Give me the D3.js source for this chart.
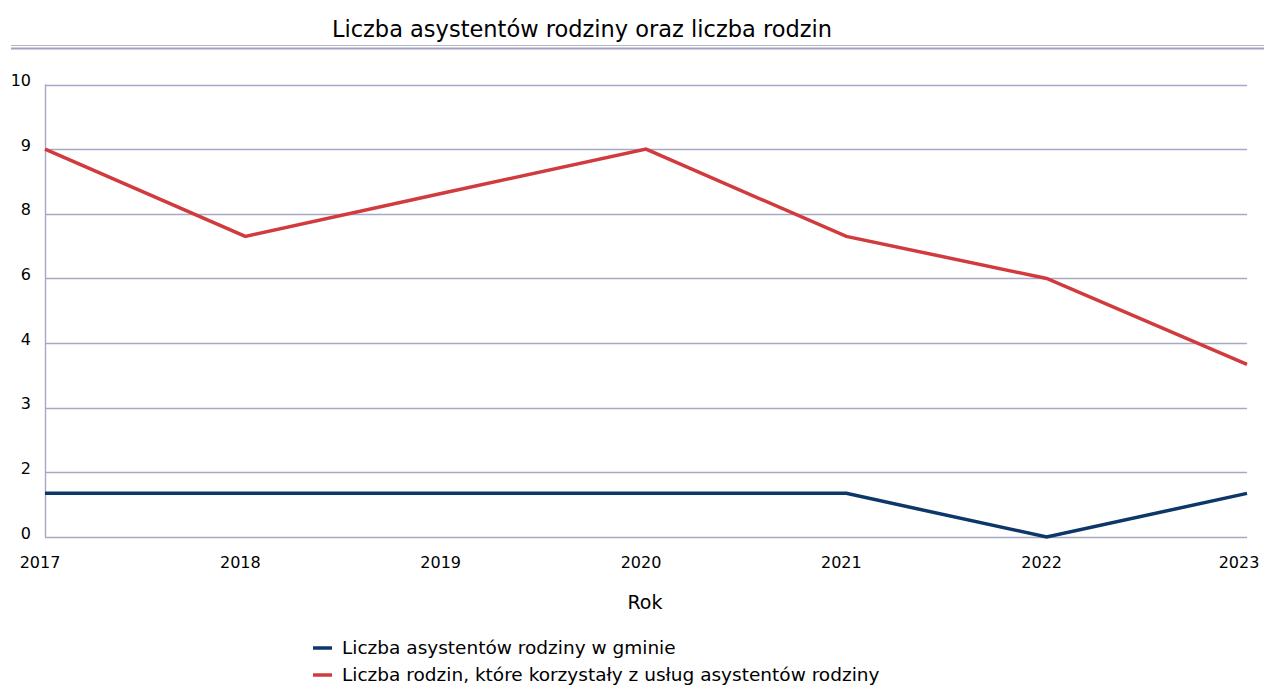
<!DOCTYPE html>
<html>
<head>
<meta charset="utf-8">
<script src="https://cdn.jsdelivr.net/npm/d3@7"></script>
<style>
  body { margin: 0; background: #fff; }
  text { font-family: "DejaVu Sans", Verdana, sans-serif; }
</style>
</head>
<body>
<svg id="chart" width="1264" height="686"></svg>
<script>
const years = [2017, 2018, 2019, 2020, 2021, 2022, 2023];
const assistants = [1.35, 1.35, 1.35, 1.35, 1.35, 0, 1.35];
const families = [9, 7.3, 8.33, 9, 7.3, 6, 3.67];
// the original axis spaces these labels evenly
const yTicks = [0, 2, 3, 4, 6, 8, 9, 10];

const series = [
  { name: 'Liczba asystentów rodziny w gminie', values: assistants, color: '#0d3768' },
  { name: 'Liczba rodzin, które korzystały z usług asystentów rodziny', values: families, color: '#d13b3e' },
];

const svg = d3.select('#chart');
const plotLeft = 45, plotRight = 1247, plotTop = 84.5, plotBottom = 537;

const x = d3.scalePoint().domain(years).range([plotLeft, plotRight]);
const y = d3.scaleLinear()
  .domain(yTicks)
  .range(yTicks.map((d, i) => plotBottom - i * (plotBottom - plotTop) / (yTicks.length - 1)));

// title + double rule
svg.append('text')
  .attr('x', 582).attr('y', 37)
  .attr('text-anchor', 'middle')
  .attr('font-size', 22.5)
  .attr('fill', '#000')
  .text('Liczba asystentów rodziny oraz liczba rodzin');
svg.append('line').attr('x1', 11).attr('x2', 1264).attr('y1', 45.5).attr('y2', 45.5)
  .attr('stroke', '#b4b6cc').attr('stroke-width', 1.2);
svg.append('line').attr('x1', 11).attr('x2', 1264).attr('y1', 48.5).attr('y2', 48.5)
  .attr('stroke', '#9fa3bd').attr('stroke-width', 2.2);

// gridlines
svg.append('g')
  .selectAll('line')
  .data(yTicks)
  .join('line')
  .attr('x1', plotLeft).attr('x2', plotRight)
  .attr('y1', (d) => Math.round(y(d)) + 0.5)
  .attr('y2', (d) => Math.round(y(d)) + 0.5)
  .attr('stroke', '#a6a8c4').attr('stroke-width', 1.4);

svg.append('line')
  .attr('x1', plotLeft + 0.5).attr('x2', plotLeft + 0.5)
  .attr('y1', plotTop).attr('y2', plotBottom)
  .attr('stroke', '#a6a8c4').attr('stroke-width', 1.4);

// y labels
svg.append('g')
  .selectAll('text')
  .data(yTicks)
  .join('text')
  .attr('x', 31)
  .attr('y', (d) => y(d) - 4)
  .attr('dy', '0.35em')
  .attr('text-anchor', 'end')
  .attr('font-size', 16)
  .attr('fill', '#000')
  .text((d) => d);

// x labels
svg.append('g')
  .selectAll('text')
  .data(years)
  .join('text')
  .attr('x', (d, i) => x(d) - (i === years.length - 1 ? 8 : 5))
  .attr('y', 568)
  .attr('text-anchor', 'middle')
  .attr('font-size', 16)
  .attr('fill', '#000')
  .text((d) => d);

svg.append('text')
  .attr('x', 645).attr('y', 609)
  .attr('text-anchor', 'middle')
  .attr('font-size', 19)
  .attr('fill', '#000')
  .text('Rok');

// lines
const line = d3.line()
  .x((d, i) => x(years[i]))
  .y((d) => y(d));

svg.append('g')
  .selectAll('path')
  .data(series)
  .join('path')
  .attr('d', (d) => line(d.values))
  .attr('fill', 'none')
  .attr('stroke', (d) => d.color)
  .attr('stroke-width', 3.5)
  .attr('stroke-linejoin', 'miter');

// legend
const legend = svg.append('g')
  .selectAll('g')
  .data(series)
  .join('g')
  .attr('transform', (d, i) => `translate(313,${648 + i * 27})`);
legend.append('line')
  .attr('x1', 0).attr('x2', 19)
  .attr('stroke', (d) => d.color).attr('stroke-width', 3.5);
legend.append('text')
  .attr('x', 29).attr('dy', '0.35em')
  .attr('font-size', 18.5)
  .attr('fill', '#000')
  .text((d) => d.name);
</script>
</body>
</html>
